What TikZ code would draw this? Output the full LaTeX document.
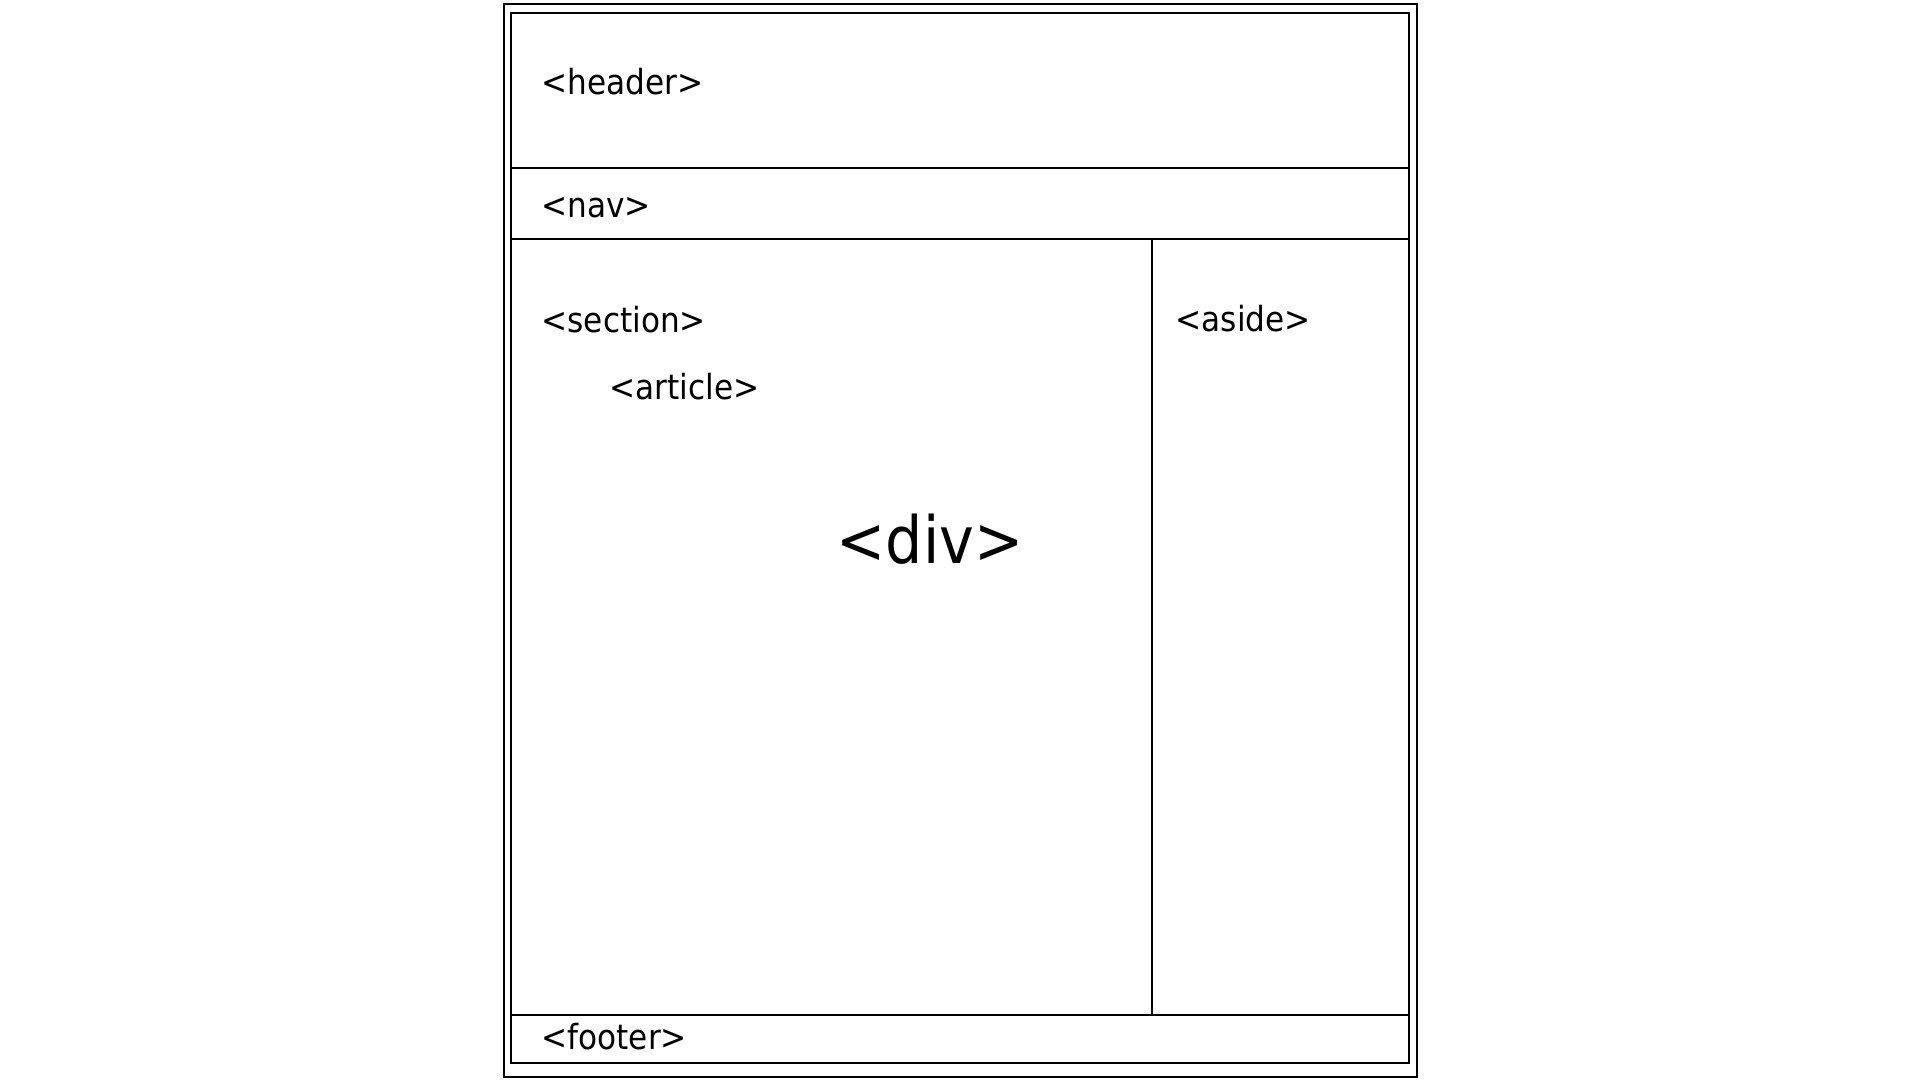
\documentclass[tikz,border=0pt]{standalone}
\usepackage{fontspec}
\setmainfont{DejaVu Sans Condensed}
\usetikzlibrary{positioning}

\begin{document}
\begin{tikzpicture}
[x=0.5pt, y=-0.5pt, line width=0.65pt,
% STYLES
% The tag style is used for the names of the page regions
tag/.style={anchor=base west, inner sep=0pt, font=\fontsize{17.3}{20}\selectfont},
% The bigtag style is used for the big name in the middle
bigtag/.style={anchor=base west, inner sep=0pt, font=\fontsize{32.6}{36}\selectfont}]

\useasboundingbox (0,0) rectangle (1920,1080);

% Corners of the page
\coordinate (outer-nw) at (504,4);
\coordinate (outer-se) at (1417,1077);
\coordinate (inner-nw) at (511,13);
\coordinate (inner-se) at (1409,1063);

% Draw frames
\draw (outer-nw) rectangle (outer-se);
\draw (inner-nw) rectangle (inner-se);

% Draw the dividers between regions
\coordinate (header-w) at (511,168);
\coordinate (header-e) at (1409,168);
\coordinate (nav-w) at (511,239);
\coordinate (nav-e) at (1409,239);
\coordinate (footer-w) at (511,1015);
\coordinate (footer-e) at (1409,1015);
\coordinate (aside-n) at (1152,239);
\coordinate (aside-s) at (1152,1015);

\draw (header-w) -- (header-e);
\draw (nav-w) -- (nav-e);
\draw (footer-w) -- (footer-e);
\draw (aside-n) -- (aside-s);

%%%%%%%%%%%%%%%
% Region names
\node [tag] (header) at (541,95) {<header>};
\node [tag] (nav) at (541,218) {<nav>};
\node [tag] (section) at (541,333) {<section>};
\node [tag] (article) at (609,399) {<article>};
\node [tag] (aside) at (1175,332) {<aside>};
\node [tag] (footer) at (541,1049) {<footer>};

% Div
\node [bigtag] (div) at (836,563) {<div>};

\end{tikzpicture}
\end{document}
